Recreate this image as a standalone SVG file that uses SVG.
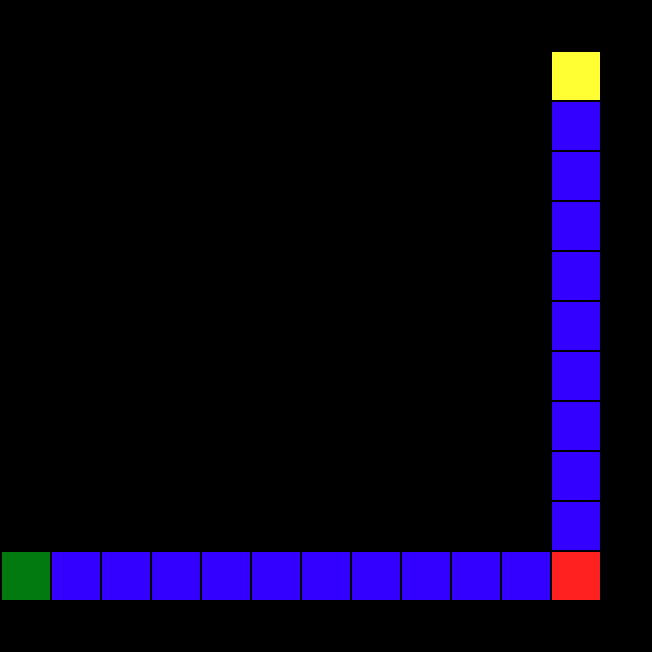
<svg xmlns="http://www.w3.org/2000/svg" width="652" height="652" viewBox="0 0 652 652">
<style>
.c{width:48px;height:48px}
.b{fill:#3300ff}
</style>
<rect x="0" y="0" width="652" height="652" fill="#000"/>
<g id="start"><rect x="2" y="552" width="48" height="48" fill="#037a10"/></g>
<g id="path">
<rect class="b" x="52" y="552" width="48" height="48"/>
<rect class="b" x="102" y="552" width="48" height="48"/>
<rect class="b" x="152" y="552" width="48" height="48"/>
<rect class="b" x="202" y="552" width="48" height="48"/>
<rect class="b" x="252" y="552" width="48" height="48"/>
<rect class="b" x="302" y="552" width="48" height="48"/>
<rect class="b" x="352" y="552" width="48" height="48"/>
<rect class="b" x="402" y="552" width="48" height="48"/>
<rect class="b" x="452" y="552" width="48" height="48"/>
<rect class="b" x="502" y="552" width="48" height="48"/>
<rect class="b" x="552" y="502" width="48" height="48"/>
<rect class="b" x="552" y="452" width="48" height="48"/>
<rect class="b" x="552" y="402" width="48" height="48"/>
<rect class="b" x="552" y="352" width="48" height="48"/>
<rect class="b" x="552" y="302" width="48" height="48"/>
<rect class="b" x="552" y="252" width="48" height="48"/>
<rect class="b" x="552" y="202" width="48" height="48"/>
<rect class="b" x="552" y="152" width="48" height="48"/>
<rect class="b" x="552" y="102" width="48" height="48"/>
</g>
<g id="corner"><rect x="552" y="552" width="48" height="48" fill="#ff2020"/></g>
<g id="goal"><rect x="552" y="52" width="48" height="48" fill="#ffff33"/></g>
</svg>
